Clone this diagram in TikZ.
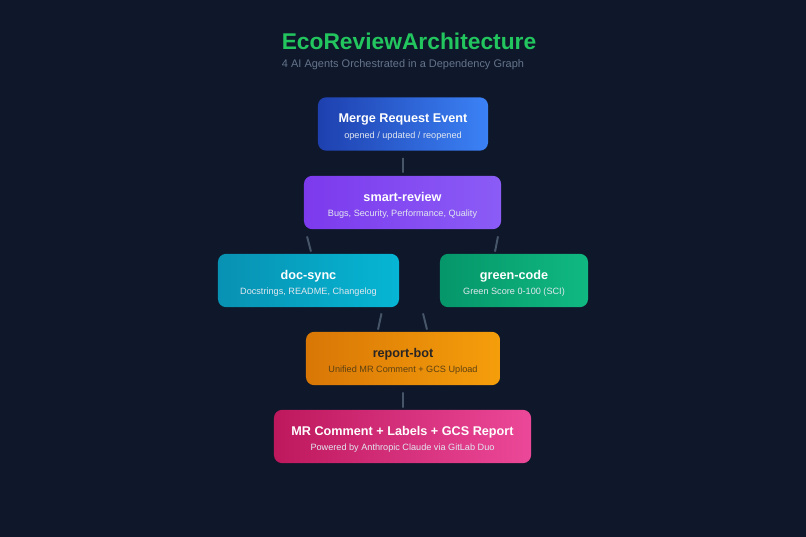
\documentclass[tikz,border=0pt]{standalone}
\usepackage{fontspec}
\setmainfont{Liberation Sans}
\usetikzlibrary{positioning,calc}
\definecolor{bgnavy}{HTML}{0F172A}
\definecolor{titlegreen}{HTML}{22C55E}
\definecolor{subgray}{HTML}{64748B}
\definecolor{linkgray}{HTML}{475569}
\definecolor{subwhite}{HTML}{E2E8F0}
\definecolor{darktext}{HTML}{292524}
\definecolor{darksub}{HTML}{5C4012}
\definecolor{mergeA}{HTML}{1E40AF}
\definecolor{mergeB}{HTML}{3B82F6}
\definecolor{smartA}{HTML}{7C3AED}
\definecolor{smartB}{HTML}{8B5CF6}
\definecolor{docA}{HTML}{0891B2}
\definecolor{docB}{HTML}{06B6D4}
\definecolor{greenA}{HTML}{059669}
\definecolor{greenB}{HTML}{10B981}
\definecolor{reportA}{HTML}{D97706}
\definecolor{reportB}{HTML}{F59E0B}
\definecolor{finalA}{HTML}{BE185D}
\definecolor{finalB}{HTML}{EC4899}
\newcommand{\stagetext}[3][subwhite]{\rule{0pt}{10.7pt}{\bfseries\fontsize{9}{11}\selectfont #2}\\[-1.2pt]{\fontsize{6.5}{8}\selectfont\color{#1}#3}}

\begin{document}
\begin{tikzpicture}[x=0.025cm,y=-0.025cm]
    \tikzset{stage/.style={rounded corners=0.2cm, inner sep=0pt, minimum height=1.33cm, align=center, text=white},
             link/.style={draw=linkgray, line width=1.4pt}}
    \fill[bgnavy] (0,0) rectangle (806,537);
    \useasboundingbox (0,0) rectangle (806,537);

    \node[font=\bfseries\fontsize{16.2}{19}\selectfont, text=titlegreen] (title) at (409,41) {EcoReviewArchitecture};
    \node[font=\fontsize{7.8}{9}\selectfont, text=subgray] (subtitle) at (403,64.5) {4 AI Agents Orchestrated in a Dependency Graph};

    \node[stage, minimum width=4.25cm, left color=mergeA, right color=mergeB] (merge) at (403,124)
        {\stagetext{Merge Request Event}{opened / updated / reopened}};
    \node[stage, minimum width=4.925cm, left color=smartA, right color=smartB] (smart) at (402.5,202.5)
        {\stagetext{smart-review}{Bugs, Security, Performance, Quality}};
    \node[stage, minimum width=4.525cm, left color=docA, right color=docB] (doc) at (308.5,280.5)
        {\stagetext{doc-sync}{Docstrings, README, Changelog}};
    \node[stage, minimum width=3.7cm, left color=greenA, right color=greenB] (green) at (514,280.5)
        {\stagetext{green-code}{Green Score 0-100 (SCI)}};
    \node[stage, minimum width=4.85cm, left color=reportA, right color=reportB, text=darktext] (report) at (403,358.5)
        {\stagetext[darksub]{report-bot}{Unified MR Comment + GCS Upload}};
    \node[stage, minimum width=6.425cm, left color=finalA, right color=finalB] (final) at (402.5,436.5)
        {\stagetext{MR Comment + Labels + GCS Report}{Powered by Anthropic Claude via GitLab Duo}};

    \draw[link] ($(merge.south)+(0,7)$) -- ($(smart.north)+(0.5,-3)$);
    \draw[link] ($(smart.south)+(-95.5,7)$) -- ($(doc.north)+(2.5,-2)$);
    \draw[link] ($(smart.south)+(95.5,7)$) -- ($(green.north)+(-19,-2)$);
    \draw[link] ($(doc.south)+(73,6)$) -- ($(report.north)+(-25,-2)$);
    \draw[link] ($(green.south)+(-91,6)$) -- ($(report.north)+(24,-2)$);
    \draw[link] ($(report.south)+(0,7)$) -- ($(final.north)+(0.5,-2)$);
\end{tikzpicture}
\end{document}
